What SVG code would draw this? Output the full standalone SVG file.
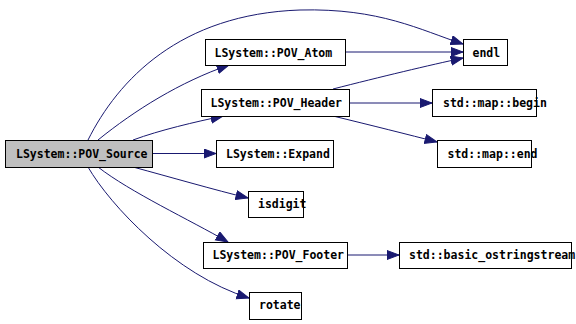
<svg xmlns="http://www.w3.org/2000/svg" width="576" height="324" viewBox="0 0 576 324">
  <style>
    .box { fill: #ffffff; stroke: #000000; stroke-width: 1; }
    .root { fill: #bfbfbf; stroke: #000000; stroke-width: 1; }
    .lbl { font-family: "DejaVu Sans Mono", "Liberation Mono", monospace; font-size: 11.5px; font-weight: bold; fill: #000000; }
    .edge { fill: none; stroke: #191970; stroke-width: 1; marker-end: url(#arrow); }
  </style>
  <defs>
    <marker id="arrow" markerUnits="userSpaceOnUse" markerWidth="14" markerHeight="11" refX="12.5" refY="5" orient="auto">
      <path d="M0.5,0.5 L12.5,5 L0.5,9.5 Z" fill="#191970" stroke="#191970" stroke-width="1"/>
    </marker>
  </defs>
  <rect width="576" height="324" fill="#ffffff"/>

  <g id="connectors">
    <path class="edge" d="M88,140 C118,80 180,14 300,10 C380,8 420,30 463,44"/>
    <path class="edge" d="M98,140 C135,110 180,82 229,65"/>
    <path class="edge" d="M133,140 C160,130 195,122 223,116"/>
    <path class="edge" d="M152,153.5 L216,153.5"/>
    <path class="edge" d="M133,167 C170,177 215,190 248,198"/>
    <path class="edge" d="M98,167 C130,192 190,220 228,242"/>
    <path class="edge" d="M88,167 C110,205 175,275 249,298"/>
    <path class="edge" d="M346,52 L463,52"/>
    <path class="edge" d="M333,89 C380,77 430,65 463,58"/>
    <path class="edge" d="M350,103 L432,103"/>
    <path class="edge" d="M333,116 C370,125 410,135 437,142"/>
    <path class="edge" d="M348,255 L399,255"/>
  </g>

  <g id="node-pov-source">
    <rect class="root" x="5.5" y="140.5" width="147" height="27"/>
    <text class="lbl" x="16" y="157.5">LSystem::POV_Source</text>
  </g>
  <g id="node-pov-atom">
    <rect class="box" x="205.5" y="39.5" width="140" height="26"/>
    <text class="lbl" x="214.5" y="56.5">LSystem::POV_Atom</text>
  </g>
  <g id="node-pov-header">
    <rect class="box" x="201.5" y="89.5" width="148" height="27"/>
    <text class="lbl" x="210.5" y="106.5">LSystem::POV_Header</text>
  </g>
  <g id="node-expand">
    <rect class="box" x="216.5" y="140.5" width="117" height="27"/>
    <text class="lbl" x="226" y="157.5">LSystem::Expand</text>
  </g>
  <g id="node-endl">
    <rect class="box" x="463.5" y="39.5" width="44" height="26"/>
    <text class="lbl" x="472.5" y="56.5">endl</text>
  </g>
  <g id="node-map-begin">
    <rect class="box" x="432.5" y="89.5" width="104" height="27"/>
    <text class="lbl" x="443" y="106.5">std::map::begin</text>
  </g>
  <g id="node-map-end">
    <rect class="box" x="437.5" y="140.5" width="94" height="27"/>
    <text class="lbl" x="447.5" y="157.5">std::map::end</text>
  </g>
  <g id="node-isdigit">
    <rect class="box" x="248.5" y="191.5" width="55" height="26"/>
    <text class="lbl" x="258" y="207.5">isdigit</text>
  </g>
  <g id="node-pov-footer">
    <rect class="box" x="203.5" y="242.5" width="144" height="26"/>
    <text class="lbl" x="212.5" y="258.5">LSystem::POV_Footer</text>
  </g>
  <g id="node-rotate">
    <rect class="box" x="249.5" y="292.5" width="52" height="27"/>
    <text class="lbl" x="259" y="308.5">rotate</text>
  </g>
  <g id="node-basic-ostringstream">
    <rect class="box" x="399.5" y="242.5" width="172" height="26"/>
    <text class="lbl" x="409" y="258.5">std::basic_ostringstream</text>
  </g>
</svg>
